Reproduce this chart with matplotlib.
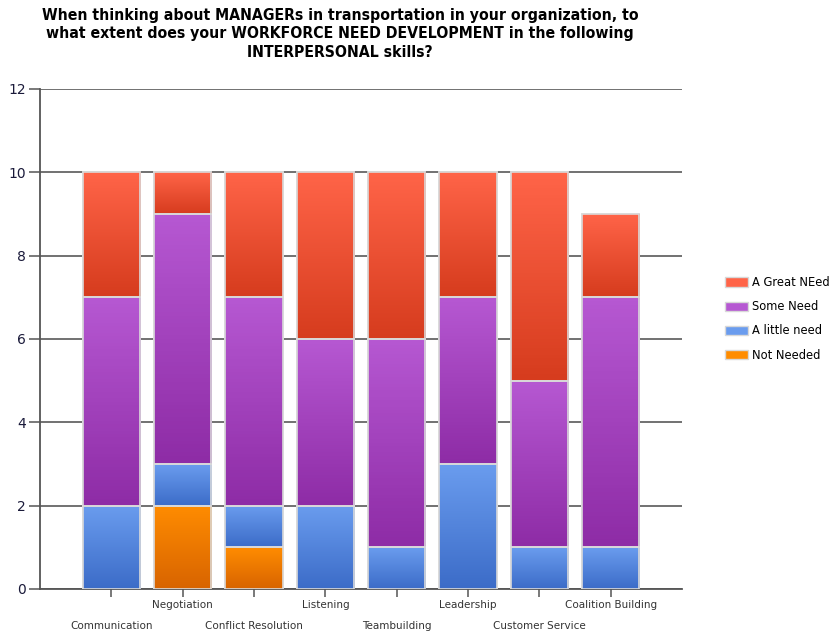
import numpy as np
import matplotlib
matplotlib.use('Agg')
import matplotlib.pyplot as plt
from matplotlib.colors import LinearSegmentedColormap
from matplotlib.patches import Rectangle

# skill categories and response counts
skills = ['Communication', 'Negotiation', 'Conflict Resolution', 'Listening',
          'Teambuilding', 'Leadership', 'Customer Service', 'Coalition Building']
not_needed = [0, 2, 1, 0, 0, 0, 0, 0]
little_need = [2, 1, 1, 2, 1, 3, 1, 1]
some_need = [5, 6, 5, 4, 5, 4, 4, 6]
great_need = [3, 1, 3, 4, 4, 3, 5, 2]

series = [('Not Needed', not_needed, '#FF8C00', '#D86400'),
          ('A little need', little_need, '#6A9CEE', '#3C6CC8'),
          ('Some Need', some_need, '#B658D2', '#8E2CA6'),
          ('A Great NEed', great_need, '#FF6448', '#D63C1E')]

title = ('When thinking about MANAGERs in transportation in your organization, to\n'
         'what extent does your WORKFORCE NEED DEVELOPMENT in the following\n'
         'INTERPERSONAL skills?')

fig = plt.figure(figsize=(8.34, 6.39), dpi=100)
ax = fig.add_axes([40/834, 1-589/639, 642/834, 500/639])

x = np.arange(1, len(skills) + 1)
width = 0.8
bottom = np.zeros(len(skills))
grad = np.linspace(0, 1, 64).reshape(-1, 1)

for name, vals, top_c, bot_c in series:
    vals = np.array(vals, dtype=float)
    cmap = LinearSegmentedColormap.from_list(name, [bot_c, top_c])
    bars = ax.bar(x, vals, width, bottom=bottom, color=top_c,
                  edgecolor='#D8D8D8', linewidth=1.2, zorder=3, label=name)
    for b, v, b0 in zip(bars, vals, bottom):
        if v <= 0:
            b.set_visible(False)
            continue
        im = ax.imshow(grad, cmap=cmap, origin='lower', aspect='auto',
                       extent=[b.get_x(), b.get_x() + width, b0, b0 + v],
                       zorder=3.5)
        im.set_clip_path(b)
        # light outline on top of the gradient
        ax.add_patch(Rectangle((b.get_x(), b0), width, v, fill=False,
                               edgecolor='#DADADA', linewidth=1.2, zorder=4))
    bottom += vals

ax.set_xlim(0, 9)
ax.set_ylim(0, 12)
ax.set_yticks(range(0, 13, 2))
ax.yaxis.grid(True, color='#4a4a4a', linewidth=1.1, zorder=1)
ax.set_axisbelow(True)
for s in ['top', 'right']:
    ax.spines[s].set_visible(False)
for s in ['left', 'bottom']:
    ax.spines[s].set_color('#555555')
    ax.spines[s].set_linewidth(1.3)
ax.tick_params(axis='y', length=8, width=1.1, color='#555555', labelsize=10,
               labelcolor='#1a1a3a', pad=2)

# staggered category labels: every other one on the lower row
ax.set_xticks(x[0::2])
ax.set_xticklabels(skills[0::2])
ax.set_xticks(x[1::2], minor=True)
ax.set_xticklabels(skills[1::2], minor=True)
ax.tick_params(axis='x', which='both', length=6, width=1.1, color='#555555',
               labelsize=7.5, labelcolor='#333333')
ax.tick_params(axis='x', which='major', pad=17)
ax.tick_params(axis='x', which='minor', pad=2)

# legend, top entry first
leg_handles = [Rectangle((0, 0), 1, 1, facecolor=c, edgecolor='#D8D8D8')
               for _, _, c, _ in series][::-1]
leg_labels = [n for n, _, _, _ in series][::-1]
fig.legend(leg_handles, leg_labels, loc='center left',
           bbox_to_anchor=(0.862, 0.501), frameon=False, fontsize=8.3,
           handlelength=2.0, handleheight=0.85, labelspacing=0.97,
           handletextpad=0.4, borderpad=0)

fig.text(0.408, 0.988, title, ha='center', va='top', fontsize=11.3,
         fontweight='bold', family='DejaVu Sans', fontstretch='condensed',
         linespacing=1.3)

fig.savefig('out.png', dpi=100)
